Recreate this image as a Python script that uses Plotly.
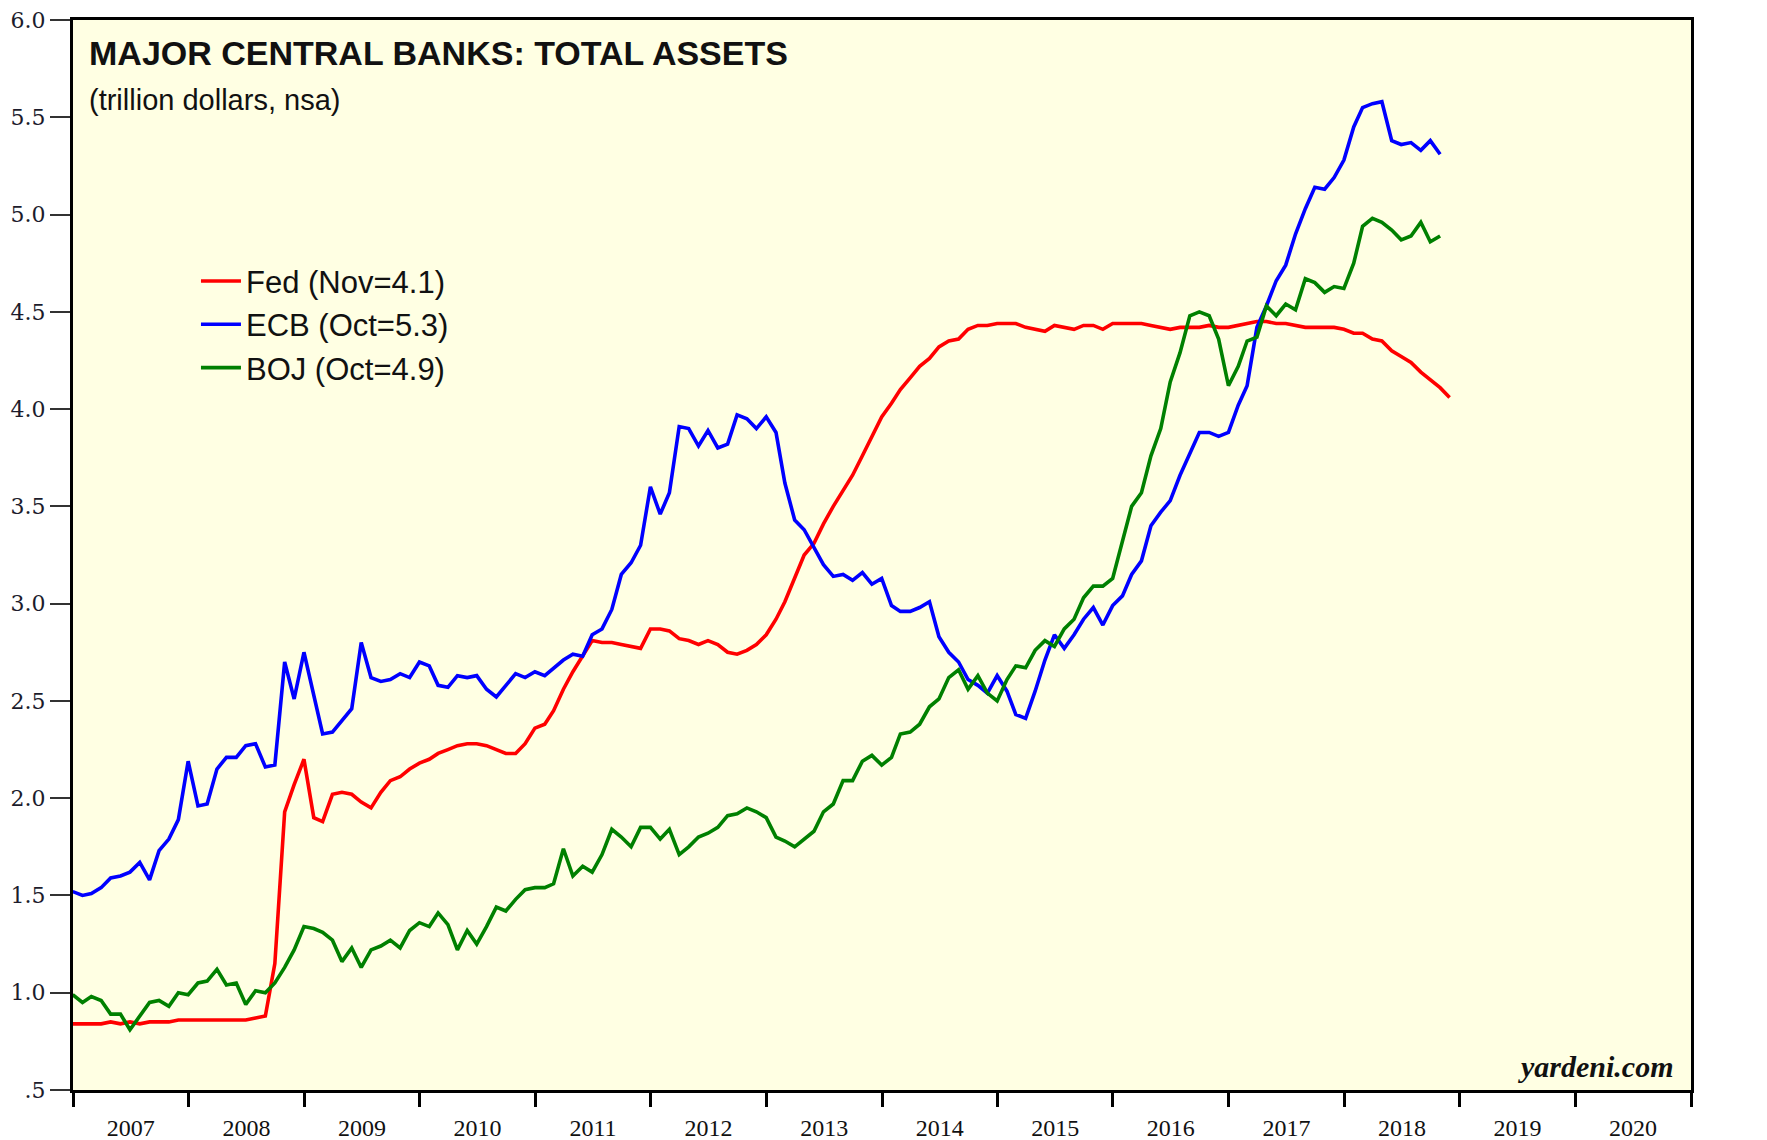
import pandas as pd
import plotly.graph_objects as go

# Monthly month-end observations, Dec 2006 onward (trillion US$)
fed_values = [
    0.84, 0.84, 0.84, 0.84, 0.85, 0.84, 0.85, 0.84, 0.85, 0.85, 0.85, 0.86, 0.86,
    0.86, 0.86, 0.86, 0.86, 0.86, 0.86, 0.87, 0.88, 1.15, 1.93, 2.07, 2.20,
    1.90, 1.88, 2.02, 2.03, 2.02, 1.98, 1.95, 2.03, 2.09, 2.11, 2.15, 2.18,
    2.20, 2.23, 2.25, 2.27, 2.28, 2.28, 2.27, 2.25, 2.23, 2.23, 2.28, 2.36,
    2.38, 2.45, 2.56, 2.65, 2.73, 2.81, 2.80, 2.80, 2.79, 2.78, 2.77, 2.87,
    2.87, 2.86, 2.82, 2.81, 2.79, 2.81, 2.79, 2.75, 2.74, 2.76, 2.79, 2.84,
    2.92, 3.01, 3.13, 3.25, 3.31, 3.41, 3.50, 3.58, 3.66, 3.76, 3.86, 3.96,
    4.03, 4.10, 4.16, 4.22, 4.26, 4.32, 4.35, 4.36, 4.41, 4.43, 4.43, 4.44,
    4.44, 4.44, 4.42, 4.41, 4.40, 4.43, 4.42, 4.41, 4.43, 4.43, 4.41, 4.44,
    4.44, 4.44, 4.44, 4.43, 4.42, 4.41, 4.42, 4.42, 4.42, 4.43, 4.42, 4.42,
    4.43, 4.44, 4.45, 4.45, 4.44, 4.44, 4.43, 4.42, 4.42, 4.42, 4.42, 4.41,
    4.39, 4.39, 4.36, 4.35, 4.30, 4.27, 4.24, 4.19, 4.15, 4.11, 4.06,
]
ecb_values = [
    1.52, 1.50, 1.51, 1.54, 1.59, 1.60, 1.62, 1.67, 1.58, 1.73, 1.79, 1.89, 2.19,
    1.96, 1.97, 2.15, 2.21, 2.21, 2.27, 2.28, 2.16, 2.17, 2.70, 2.51, 2.75,
    2.53, 2.33, 2.34, 2.40, 2.46, 2.80, 2.62, 2.60, 2.61, 2.64, 2.62, 2.70,
    2.68, 2.58, 2.57, 2.63, 2.62, 2.63, 2.56, 2.52, 2.58, 2.64, 2.62, 2.65,
    2.63, 2.67, 2.71, 2.74, 2.73, 2.84, 2.87, 2.97, 3.15, 3.21, 3.30, 3.60,
    3.46, 3.57, 3.91, 3.90, 3.81, 3.89, 3.80, 3.82, 3.97, 3.95, 3.90, 3.96,
    3.88, 3.62, 3.43, 3.38, 3.29, 3.20, 3.14, 3.15, 3.12, 3.16, 3.10, 3.13,
    2.99, 2.96, 2.96, 2.98, 3.01, 2.83, 2.75, 2.70, 2.61, 2.58, 2.54, 2.63,
    2.55, 2.43, 2.41, 2.55, 2.71, 2.84, 2.77, 2.84, 2.92, 2.98, 2.89, 2.99,
    3.04, 3.15, 3.22, 3.40, 3.47, 3.53, 3.66, 3.77, 3.88, 3.88, 3.86, 3.88,
    4.02, 4.12, 4.42, 4.53, 4.66, 4.74, 4.90, 5.03, 5.14, 5.13, 5.19, 5.28,
    5.45, 5.55, 5.57, 5.58, 5.38, 5.36, 5.37, 5.33, 5.38, 5.31,
]
boj_values = [
    0.99, 0.95, 0.98, 0.96, 0.89, 0.89, 0.81, 0.88, 0.95, 0.96, 0.93, 1.00, 0.99,
    1.05, 1.06, 1.12, 1.04, 1.05, 0.94, 1.01, 1.00, 1.05, 1.13, 1.22, 1.34,
    1.33, 1.31, 1.27, 1.16, 1.23, 1.13, 1.22, 1.24, 1.27, 1.23, 1.32, 1.36,
    1.34, 1.41, 1.35, 1.22, 1.32, 1.25, 1.34, 1.44, 1.42, 1.48, 1.53, 1.54,
    1.54, 1.56, 1.74, 1.60, 1.65, 1.62, 1.71, 1.84, 1.80, 1.75, 1.85, 1.85,
    1.79, 1.84, 1.71, 1.75, 1.80, 1.82, 1.85, 1.91, 1.92, 1.95, 1.93, 1.90,
    1.80, 1.78, 1.75, 1.79, 1.83, 1.93, 1.97, 2.09, 2.09, 2.19, 2.22, 2.17,
    2.21, 2.33, 2.34, 2.38, 2.47, 2.51, 2.62, 2.66, 2.56, 2.63, 2.54, 2.50,
    2.61, 2.68, 2.67, 2.76, 2.81, 2.78, 2.87, 2.92, 3.03, 3.09, 3.09, 3.13,
    3.32, 3.50, 3.57, 3.76, 3.90, 4.14, 4.29, 4.48, 4.50, 4.48, 4.36, 4.12,
    4.22, 4.35, 4.37, 4.53, 4.48, 4.54, 4.51, 4.67, 4.65, 4.60, 4.63, 4.62,
    4.75, 4.94, 4.98, 4.96, 4.92, 4.87, 4.89, 4.96, 4.86, 4.89,
]

series_names = ["Fed (Nov=4.1)", "ECB (Oct=5.3)", "BOJ (Oct=4.9)"]
series_colors = ["#FF0000", "#0000FF", "#008000"]

y_tick_values = [0.5, 1.0, 1.5, 2.0, 2.5, 3.0, 3.5, 4.0, 4.5, 5.0, 5.5, 6.0]
y_tick_labels = [".5", "1.0", "1.5", "2.0", "2.5", "3.0", "3.5", "4.0", "4.5", "5.0", "5.5", "6.0"]

dates = pd.date_range("2006-12-31", periods=len(fed_values), freq="ME")

fig = go.Figure()
for name, vals, col in zip(series_names, [fed_values, ecb_values, boj_values], series_colors):
    fig.add_trace(go.Scatter(
        x=dates[:len(vals)], y=vals, mode="lines", name=name,
        line=dict(color=col, width=3.6),
    ))

tick_font = dict(family="DejaVu Serif", size=22, color="#1c1c2c")
sans = "Liberation Sans, Arial, sans-serif"

# page body has an 8px default margin: size/margins compensate so the plot
# area lands at x 73..1691, y 20..1090 in the 1767x1140 window
fig.update_layout(
    width=1759, height=1132,
    margin=dict(l=65, r=76, t=12, b=50, autoexpand=False),
    paper_bgcolor="white",
    plot_bgcolor="#FFFFE3",
    showlegend=True,
    legend=dict(
        x=0.076, y=0.781, xanchor="left", yanchor="top",
        bgcolor="rgba(0,0,0,0)",
        font=dict(family=sans, size=31, color="#111"),
        itemwidth=40,
        tracegroupgap=0,
    ),
    xaxis=dict(
        type="date",
        range=["2007-01-01", "2021-01-01"],
        tick0="2007-01-01", dtick="M12",
        tickformat="%Y",
        ticklabelmode="period",
        ticklabeloverflow="allow",
        ticks="outside", ticklen=14, tickwidth=2.5, tickcolor="black",
        ticklabelstandoff=0,
        showline=True, linewidth=3, linecolor="black", mirror=True,
        showgrid=False, zeroline=False, automargin=False,
        tickfont=dict(family="Liberation Serif", size=24, color="#111"),
    ),
    yaxis=dict(
        range=[0.5, 6.0],
        tickvals=y_tick_values, ticktext=y_tick_labels,
        ticklabeloverflow="allow",
        ticks="outside", ticklen=20, tickwidth=2, tickcolor="#333",
        showline=True, linewidth=3, linecolor="black", mirror=True,
        showgrid=False, zeroline=False, automargin=False,
        tickfont=tick_font,
    ),
    yaxis2=dict(
        range=[0.5, 6.0], overlaying="y", side="right",
        tickvals=y_tick_values, ticktext=y_tick_labels,
        ticklabeloverflow="allow",
        ticks="outside", ticklen=20, tickwidth=2, tickcolor="#333",
        showline=False, showgrid=False, zeroline=False, automargin=False,
        tickfont=tick_font,
    ),
)

fig.add_annotation(
    xref="paper", yref="paper", x=0.0085, y=0.989, xanchor="left", yanchor="top",
    text="<b>MAJOR CENTRAL BANKS: TOTAL ASSETS</b>", showarrow=False,
    font=dict(family=sans, size=34, color="#111"),
)
fig.add_annotation(
    xref="paper", yref="paper", x=0.0085, y=0.942, xanchor="left", yanchor="top",
    text="(trillion dollars, nsa)", showarrow=False,
    font=dict(family=sans, size=29, color="#111"),
)
fig.add_annotation(
    xref="paper", yref="paper", x=0.99, y=0.005, xanchor="right", yanchor="bottom",
    text="<b><i>yardeni.com</i></b>", showarrow=False,
    font=dict(family="Liberation Serif", size=30, color="#111"),
)

fig.write_html("out.html")
